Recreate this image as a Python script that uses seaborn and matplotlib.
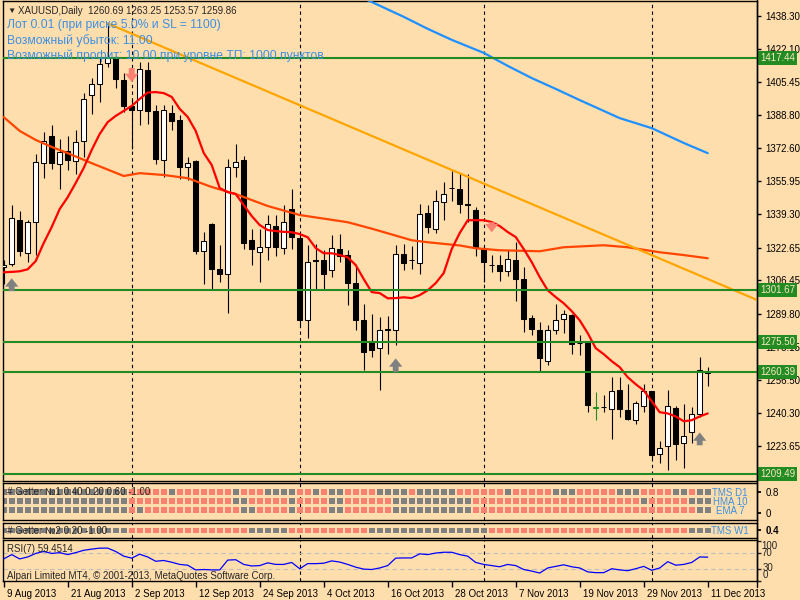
import matplotlib
matplotlib.use('Agg')
import matplotlib.pyplot as plt
from matplotlib import transforms
from matplotlib.lines import Line2D
import numpy as np
import seaborn as sns

# --- data ---
opens = [1313.0, 1314.7, 1336.7, 1320.1, 1335.6, 1365.1, 1378.7, 1364.7, 1370.9, 1365.9,
         1375.9, 1398.9, 1404.2, 1415.0, 1418.1, 1406.4, 1393.4, 1391.7, 1411.4, 1390.9,
         1366.7, 1390.2, 1386.7, 1363.1, 1365.9, 1321.1, 1334.4, 1311.8, 1309.7, 1363.1,
         1366.4, 1326.4, 1320.6, 1323.1, 1333.4, 1322.7, 1342.2, 1327.7, 1286.7, 1316.4,
         1316.4, 1311.7, 1322.2, 1318.9, 1305.2, 1286.4, 1276.1, 1272.7, 1281.7, 1281.4,
         1319.4, 1316.4, 1315.1, 1340.1, 1332.1, 1345.6, 1352.6, 1352.2, 1344.4, 1341.7,
         1322.7, 1314.2, 1313.9, 1311.1, 1316.7, 1307.2, 1287.7, 1281.7, 1265.9, 1281.4,
         1286.9, 1289.2, 1275.1, 1275.1, 1242.7, 1243.1, 1242.2, 1251.4, 1241.7, 1236.7,
         1243.4, 1250.9, 1219.4, 1223.4, 1242.7, 1225.2, 1230.4, 1239.7, 1260.69]
highs = [1316.7, 1343.9, 1341.1, 1336.4, 1369.7, 1380.6, 1384.2, 1377.2, 1378.4, 1381.4,
         1400.1, 1407.2, 1418.0, 1434.7, 1418.6, 1409.7, 1397.2, 1415.2, 1415.6, 1393.9,
         1393.9, 1393.9, 1388.9, 1368.1, 1366.5, 1330.6, 1335.0, 1323.9, 1367.2, 1374.7,
         1368.4, 1331.8, 1331.8, 1338.9, 1338.9, 1343.9, 1352.2, 1330.0, 1323.9, 1324.7,
         1321.4, 1328.9, 1329.7, 1321.7, 1313.9, 1294.4, 1289.7, 1288.1, 1288.4, 1324.2,
         1324.4, 1323.6, 1344.4, 1344.2, 1351.7, 1355.6, 1361.1, 1360.1, 1359.4, 1343.1,
         1323.0, 1318.9, 1318.9, 1321.7, 1325.6, 1313.1, 1288.9, 1285.6, 1283.9, 1294.4,
         1291.4, 1289.6, 1278.9, 1275.5, 1250.6, 1249.2, 1258.1, 1258.1, 1254.7, 1246.1,
         1254.7, 1251.2, 1226.1, 1251.4, 1243.4, 1244.4, 1243.1, 1268.1, 1263.25]
lows = [1304.7, 1313.5, 1318.4, 1315.6, 1318.9, 1357.7, 1362.2, 1352.2, 1361.4, 1359.7,
        1368.1, 1389.4, 1395.4, 1413.0, 1402.2, 1390.6, 1372.2, 1383.9, 1384.7, 1364.7,
        1358.0, 1381.4, 1357.2, 1356.4, 1319.7, 1304.7, 1301.4, 1305.6, 1290.0, 1358.0,
        1322.0, 1313.9, 1305.6, 1316.4, 1318.4, 1319.7, 1322.2, 1284.0, 1277.7, 1301.7,
        1302.2, 1308.1, 1315.6, 1293.9, 1281.7, 1261.4, 1268.1, 1251.4, 1269.4, 1273.9,
        1311.4, 1312.2, 1309.7, 1330.1, 1330.1, 1336.4, 1346.1, 1340.1, 1335.6, 1318.4,
        1305.6, 1310.6, 1306.1, 1308.4, 1296.1, 1280.6, 1278.9, 1261.1, 1264.0, 1279.7,
        1280.1, 1269.7, 1268.9, 1240.6, 1236.7, 1240.6, 1227.2, 1238.1, 1236.4, 1234.7,
        1240.6, 1217.0, 1215.1, 1211.7, 1216.7, 1212.7, 1225.1, 1238.0, 1253.57]
closes = [1313.8, 1337.7, 1321.1, 1335.6, 1365.6, 1376.1, 1365.1, 1370.6, 1366.4, 1375.7,
          1397.2, 1404.2, 1414.6, 1417.2, 1406.9, 1393.4, 1391.4, 1411.7, 1391.1, 1366.9,
          1391.4, 1386.0, 1363.1, 1364.8, 1320.9, 1326.1, 1312.2, 1309.7, 1363.1, 1365.6,
          1324.8, 1322.2, 1322.8, 1334.4, 1323.1, 1335.6, 1328.1, 1286.7, 1315.6, 1315.9,
          1309.7, 1322.7, 1318.4, 1305.1, 1286.7, 1270.6, 1271.7, 1281.7, 1282.0, 1319.7,
          1315.1, 1316.6, 1339.7, 1333.1, 1346.1, 1349.7, 1352.4, 1344.7, 1344.2, 1322.7,
          1315.6, 1313.9, 1311.1, 1317.2, 1307.2, 1287.2, 1282.2, 1267.7, 1281.4, 1286.7,
          1289.7, 1274.7, 1274.9, 1243.9, 1242.7, 1242.9, 1251.1, 1242.2, 1237.2, 1245.1,
          1251.1, 1219.2, 1222.7, 1243.4, 1224.7, 1228.4, 1239.7, 1261.7, 1259.86]
green_doji = [74]

# moving averages (vertices)
fast_bars = list(range(89))
fast_vals = [1310.4, 1310.6, 1310.9, 1311.9, 1316.0, 1325.0, 1333.0, 1342.0, 1347.9, 1355.0,
             1362.5, 1371.5, 1379.5, 1385.4, 1388.5, 1391.0, 1393.5, 1397.0, 1400.2, 1400.4,
             1399.9, 1398.0, 1392.0, 1388.0, 1381.0, 1370.0, 1364.0, 1352.5, 1350.4, 1349.5,
             1344.0, 1338.5, 1334.0, 1331.5, 1331.0, 1330.6, 1330.4, 1329.5, 1327.9, 1322.5,
             1319.9, 1319.9, 1319.0, 1317.9, 1314.0, 1307.0, 1300.5, 1300.0, 1297.4, 1297.5,
             1297.9, 1297.5, 1299.0, 1301.4, 1305.0, 1310.0, 1322.0, 1330.0, 1336.4, 1336.4,
             1336.4, 1335.5, 1333.5, 1330.5, 1328.0, 1322.0, 1315.5, 1308.0, 1301.4, 1298.0,
             1294.9, 1291.0, 1286.4, 1280.0, 1272.5, 1269.5, 1266.0, 1263.0, 1258.0, 1254.5,
             1251.4, 1246.0, 1240.5, 1239.9, 1238.4, 1236.0, 1236.5, 1238.4, 1239.9]
slow_bars = [0, 2, 4, 6, 8, 11, 15, 17, 20, 23, 26, 29, 31, 33, 37, 43, 46, 51, 53, 57,
             59, 62, 67, 70, 75, 78, 82, 85, 88]
slow_vals = [1387.9, 1381.0, 1376.5, 1373.0, 1369.9, 1364.9, 1358.5, 1359.9, 1359.0, 1357.4,
             1353.0, 1349.5, 1346.5, 1343.5, 1339.0, 1335.4, 1332.2, 1326.4, 1325.4, 1323.8,
             1322.4, 1321.4, 1320.9, 1322.9, 1323.9, 1322.9, 1320.4, 1319.0, 1317.4]
blue_bars = [44, 46, 50, 53, 56, 60, 63, 66, 69, 72, 75, 77, 81, 85, 88]
blue_vals = [1449.0, 1445.4, 1438.0, 1432.0, 1426.5, 1420.0, 1413.5, 1407.4, 1402.0, 1396.4,
             1391.0, 1387.4, 1382.4, 1375.0, 1369.9]
trend_bars = [13, 94.5]
trend_prices = [1434.7, 1296.0]

green_levels = [1417.44, 1301.67, 1275.50, 1260.39, 1209.49]
price_ticks = [1438.30, 1422.10, 1405.45, 1388.80, 1372.60, 1355.95, 1339.30, 1322.65,
               1306.45, 1289.80, 1273.15, 1256.50, 1240.30, 1223.65]

up_arrow_bars = [1, 49, 87]
up_arrow_tail = [1301.0, 1260.5, 1224.0]
up_arrow_head = [1307.4, 1267.4, 1230.4]
down_arrow_bars = [16, 61]
down_arrow_tail = [1412.4, 1335.4]
down_arrow_head = [1405.4, 1330.4]

separator_bars = [16, 37, 60, 81]
date_bars = [0, 8, 16, 24, 32, 40, 48, 56, 64, 72, 80, 88]
date_labels = ['9 Aug 2013', '21 Aug 2013', '2 Sep 2013', '12 Sep 2013', '24 Sep 2013',
               '4 Oct 2013', '16 Oct 2013', '28 Oct 2013', '7 Nov 2013', '19 Nov 2013',
               '29 Nov 2013', '11 Dec 2013']

# Getter signals: p = pink (sell), g = gray (buy)
tms_d1 = ('gggggggggg' 'ggggggpppp' 'pgpppppppg' 'pppggggppg' 'pggppppggg'
          'gpgggggppp' 'pppgpppppg' 'ggpppppggg' 'ppppggpgg')
hma_10 = ('gggggggggg' 'ggggggpppp' 'pppppppppg' 'gpppppgppp' 'pggppppppg'
          'gggggggggp' 'pppppppppp' 'pppppppppp' 'gpppppggg')
ema_7 = ('gggggggggg' 'ggggggpgpp' 'pppppppppp' 'ggppppgppp' 'pggppppppg'
         'gggggggggp' 'pppppppppp' 'pppppppppp' 'pppppppgg')
tms_w1 = ('gggggggggg' 'ggggggpppp' 'pppppppppp' 'pgggggpppp' 'ppppppgggg'
          'gggggggggg' 'gppppppppp' 'pppppppppp' 'ppppppggg')

rsi_vals = [55, 66, 55, 60, 69, 74, 69, 71, 66, 71,
            77, 80, 82.5, 82.5, 74, 62, 57, 67, 60, 49,
            51, 46.6, 41, 39, 27, 28, 27, 27, 52, 53,
            41, 37, 38, 45, 41, 41, 46, 30, 43, 43,
            44, 50, 47, 41, 34, 29, 28, 32, 38, 57,
            57.5, 57.5, 68, 66, 70, 72, 72, 66, 62, 46,
            41, 38, 35, 41, 38, 28, 24, 19, 32, 36,
            40, 35, 32, 22, 20, 20, 30, 27, 25, 30,
            36, 26, 32, 48, 39, 41, 46, 60, 59.4514]

# --- style ---
BG = '#ffdead'
GREEN = '#228b22'
PINK = '#fa8072'
GRAY = '#808080'
BLUE_TXT = '#3d8fe3'

sns.set_theme(style='white')
plt.rcParams['font.family'] = ['Liberation Sans', 'DejaVu Sans']

fig = plt.figure(figsize=(8, 6), dpi=100, facecolor=BG)
XL = (-0.125, 94.16)


def pane(x0, y0, x1, y1):
    ax = fig.add_axes([x0 / 800, 1 - y1 / 600, (x1 - x0) / 800, (y1 - y0) / 600])
    ax.set_facecolor(BG)
    for s in ax.spines.values():
        s.set_color('black')
        s.set_linewidth(1)
    ax.set_xlim(*XL)
    ax.set_xticks([])
    ax.set_yticks([])
    for b in separator_bars:
        ax.axvline(b, color='black', lw=0.8, ls=(0, (3, 3)), zorder=1)
    return ax


def ftext(x, y, s, **kw):
    kw.setdefault('fontsize', 7)
    kw.setdefault('va', 'center')
    fig.text(x / 800, 1 - y / 600, s, **kw)


# --- main price pane ---
ax = pane(2.7, 1, 757, 480.5)
bars = np.arange(len(opens))
o, h, l, c = map(np.array, (opens, highs, lows, closes))
bull = c >= o
edge = ['black'] * len(bars)
for b in green_doji:
    edge[b] = GREEN
ax.vlines(bars, l, h, colors=edge, lw=0.8, zorder=2)
ax.bar(bars, np.maximum(np.abs(c - o), 0.3), bottom=np.minimum(o, c), width=0.6,
       color=np.where(bull, 'white', 'black'), edgecolor=edge, linewidth=0.75, zorder=3)

sns.lineplot(x=slow_bars, y=slow_vals, ax=ax, color='#ff4500', lw=1.6, zorder=4)
sns.lineplot(x=fast_bars, y=fast_vals, ax=ax, color='#ff0000', lw=1.6, zorder=4)
sns.lineplot(x=blue_bars, y=blue_vals, ax=ax, color='#1e90ff', lw=1.6, zorder=4)
sns.lineplot(x=trend_bars, y=trend_prices, ax=ax, color='#ffa500', lw=1.6, zorder=4)

for lv in green_levels:
    ax.axhline(lv, color=GREEN, lw=1.5, zorder=5)

for b, t, hd in zip(up_arrow_bars, up_arrow_tail, up_arrow_head):
    ax.annotate('', xy=(b, hd), xytext=(b, t),
                arrowprops=dict(arrowstyle='simple,head_length=0.5,head_width=0.8,tail_width=0.35',
                                color=GRAY, lw=0, shrinkA=0, shrinkB=0), zorder=6)
for b, t, hd in zip(down_arrow_bars, down_arrow_tail, down_arrow_head):
    ax.annotate('', xy=(b, hd), xytext=(b, t),
                arrowprops=dict(arrowstyle='simple,head_length=0.5,head_width=0.8,tail_width=0.35',
                                color=PINK, lw=0, shrinkA=0, shrinkB=0), zorder=6)

ax.set_ylim(1206.4, 1445.9)
ax.set_yticks(price_ticks)
ax.set_yticklabels([f'{p:.2f}' for p in price_ticks])
ax.tick_params(axis='y', left=False, right=True, labelleft=False, labelright=True,
               direction='out', length=3, width=1, pad=3, labelsize=7, colors='black')
ax.set_xlabel('')
ax.set_ylabel('')
lbl_tr = transforms.offset_copy(transforms.blended_transform_factory(ax.transAxes, ax.transData),
                                fig=fig, x=3, y=0, units='dots')
for lv in green_levels:
    ax.text(1.0, lv, f'{lv:.2f}', transform=lbl_tr, ha='left', va='center', fontsize=7,
            color='#fbe9c2', clip_on=False, zorder=10,
            bbox=dict(boxstyle='square,pad=0.2', fc=GREEN, ec='none'))

# --- Getter #1 pane ---
g1 = pane(2.7, 483, 757, 519.5)
for row, yrow in zip([tms_d1, hma_10, ema_7], [492.3, 501.3, 510.0]):
    sns.scatterplot(x=bars, y=[yrow] * len(bars), hue=list(row), palette={'p': PINK, 'g': GRAY},
                    marker='s', s=17, linewidth=0, legend=False, ax=g1, zorder=2)
g1.set_ylim(519.5, 483)
g1.set_yticks([492, 513])
g1.set_yticklabels(['0.8', '0'])
g1.tick_params(axis='y', left=False, right=True, labelleft=False, labelright=True,
               direction='out', length=3, pad=3, labelsize=7, colors='black')
g1.set_xlabel('')
g1.set_ylabel('')

# --- Getter #2 pane ---
g2 = pane(2.7, 522.7, 757, 537.5)
sns.scatterplot(x=bars, y=[530.5] * len(bars), hue=list(tms_w1), palette={'p': PINK, 'g': GRAY},
                marker='s', s=17, linewidth=0, legend=False, ax=g2, zorder=2)
g2.set_ylim(537.5, 522.7)
g2.set_yticks([530.3])
g2.set_yticklabels(['0.4'], fontweight='bold')
g2.tick_params(axis='y', left=False, right=True, labelleft=False, labelright=True,
               direction='out', length=3, pad=3, labelsize=7, colors='black')
g2.set_xlabel('')
g2.set_ylabel('')

# --- RSI pane ---
r = pane(2.7, 539.5, 757, 580.5)
for lv in (70, 30):
    r.axhline(lv, color='#bdbdbd', lw=0.8, ls=(0, (4, 3)), zorder=1)
sns.lineplot(x=bars, y=rsi_vals, ax=r, color='#0000ff', lw=0.9, zorder=3)
r.set_ylim(2, 104.5)
r.set_yticks([100, 70, 30, 0])
r.set_yticklabels([])
r.tick_params(axis='y', left=False, right=True, direction='out', length=3, width=1)
r.set_xticks(date_bars)
r.set_xticklabels(date_labels, ha='left')
r.tick_params(axis='x', bottom=True, direction='out', length=4, width=1, pad=2,
              labelsize=7, colors='black')
shift = transforms.ScaledTranslation(3 / 100, 0, fig.dpi_scale_trans)
for t in r.get_xticklabels():
    t.set_transform(t.get_transform() + shift)
r.set_xlabel('')
r.set_ylabel('')

# right-hand scale line running through all panes
fig.add_artist(Line2D([757 / 800, 757 / 800], [1, 1 - 587 / 600], color='black', lw=1))

# --- texts ---
ftext(7, 11, '\u25bc', fontsize=6)
ftext(18, 11, 'XAUUSD,Daily  1260.69 1263.25 1253.57 1259.86')
ftext(7, 25, 'Лот 0.01 (при риске 5.0% и SL = 1100)', fontsize=8.7, color=BLUE_TXT)
ftext(7, 41, 'Возможный убыток: 11.00', fontsize=8.7, color=BLUE_TXT)
ftext(7, 56, 'Возможный профит: 10.00 при уровне ТП: 1000 пунктов', fontsize=8.7, color=BLUE_TXT)

ftext(7, 492, '# Getter №1 0.40 0.20 0.60 -1.00')
ftext(730, 493, 'TMS D1', color=BLUE_TXT, ha='center')
ftext(730, 502, 'HMA 10', color=BLUE_TXT, ha='center')
ftext(730, 510.5, 'EMA 7', color=BLUE_TXT, ha='center')
ftext(7, 530.5, '# Getter №2 0.20 -1.00')
ftext(730, 531, 'TMS W1', color=BLUE_TXT, ha='center')

ftext(7, 548.5, 'RSI(7) 59.4514')
ftext(7, 576, 'Alpari Limited MT4, © 2001-2013, MetaQuotes Software Corp.')
ftext(761, 546, '100')
ftext(761, 552.5, '70')
ftext(763, 568, '30')
ftext(763, 575, '0')

fig.savefig('out.png', dpi=100, facecolor=BG)
